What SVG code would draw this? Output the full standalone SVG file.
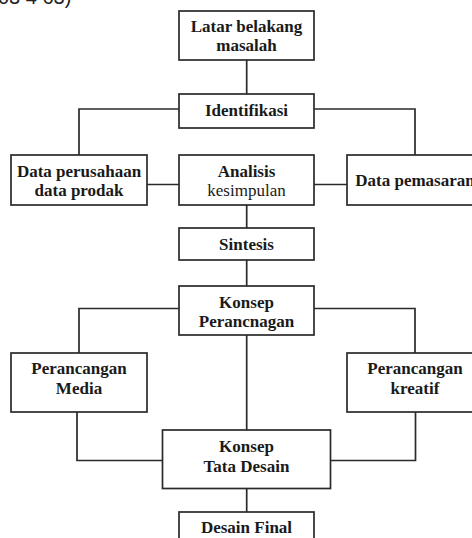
<svg xmlns="http://www.w3.org/2000/svg" width="472" height="538" viewBox="0 0 472 538">
<style>
.box{fill:#fff;stroke:#2a2a2a;stroke-width:1.7}
.ln{fill:none;stroke:#2a2a2a;stroke-width:1.7}
text{font-family:"Liberation Serif","Times New Roman",serif;font-size:17px;fill:#1a1a1a;text-anchor:middle}
.b{font-weight:bold}
.cap{font-family:"Liberation Sans",Arial,sans-serif;font-size:20px;text-anchor:start;fill:#222}
</style>
<rect width="472" height="538" fill="#fff"/>
<text class="cap" x="-2" y="4">03 4 63)</text>
<g id="connectors">
<path class="ln" d="M246.7 60V94"/>
<path class="ln" d="M179 109H79V155M314 109H415V155"/>
<path class="ln" d="M147 184.5H179M314 184.5H347"/>
<path class="ln" d="M246.7 205V228M246.7 260V286"/>
<path class="ln" d="M179 308.5H79V353M314 308.5H415V353"/>
<path class="ln" d="M246.7 335V430"/>
<path class="ln" d="M77 412V460.5H162.5M415.5 412V460.5H330.5"/>
<path class="ln" d="M246.7 488.5V512"/>
</g>
<g id="latar"><rect class="box" x="179" y="11" width="135" height="49"/><text class="b" x="246.5" y="32">Latar belakang</text><text class="b" x="246.5" y="50.5">masalah</text></g>
<g id="identifikasi"><rect class="box" x="179" y="94" width="135" height="34"/><text class="b" x="246.5" y="115.5">Identifikasi</text></g>
<g id="data-perusahaan"><rect class="box" x="11" y="155" width="136" height="50"/><text class="b" x="79" y="176.5">Data perusahaan</text><text class="b" x="79" y="195.5">data prodak</text></g>
<g id="analisis"><rect class="box" x="179" y="155" width="135" height="50"/><text class="b" x="246.5" y="176.5">Analisis</text><text x="246.5" y="195.5">kesimpulan</text></g>
<g id="data-pemasaran"><rect class="box" x="347" y="155" width="136" height="50"/><text class="b" x="415" y="185.5">Data pemasaran</text></g>
<g id="sintesis"><rect class="box" x="179" y="228" width="135" height="32"/><text class="b" x="246.5" y="249.5">Sintesis</text></g>
<g id="konsep-perancangan"><rect class="box" x="179" y="286" width="135" height="49"/><text class="b" x="246.5" y="307.5">Konsep</text><text class="b" x="246.5" y="327">Perancnagan</text></g>
<g id="perancangan-media"><rect class="box" x="11" y="353" width="136" height="59"/><text class="b" x="79" y="373.5">Perancangan</text><text class="b" x="79" y="394">Media</text></g>
<g id="perancangan-kreatif"><rect class="box" x="347" y="353" width="136" height="59"/><text class="b" x="415" y="373.5">Perancangan</text><text class="b" x="415" y="394">kreatif</text></g>
<g id="konsep-tata-desain"><rect class="box" x="162.5" y="430" width="168" height="58.5"/><text class="b" x="246.5" y="451.5">Konsep</text><text class="b" x="246.5" y="471.5">Tata Desain</text></g>
<g id="desain-final"><rect class="box" x="179" y="512" width="135" height="40"/><text class="b" x="246.5" y="533">Desain Final</text></g>
</svg>
